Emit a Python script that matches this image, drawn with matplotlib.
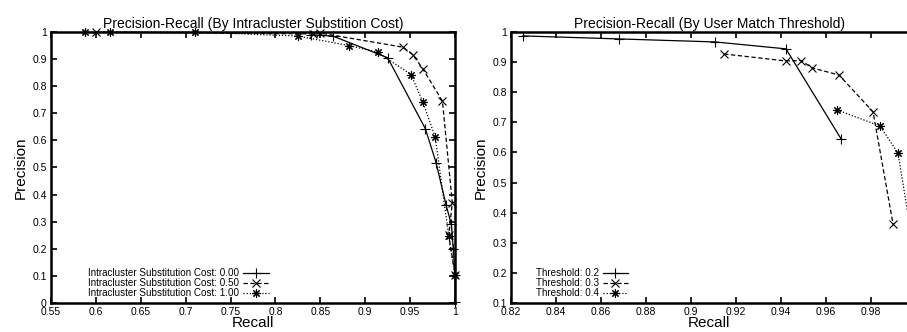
import matplotlib
matplotlib.use("Agg")
import matplotlib.pyplot as plt
from matplotlib.ticker import FuncFormatter, MultipleLocator

plt.rcParams['font.family'] = ['Liberation Sans', 'DejaVu Sans']

# --- Painel esquerdo: custo de substituição intracluster ---
rec_c000 = [0.840, 0.864, 0.925, 0.967, 0.979, 0.990, 0.996, 0.998, 1.000, 1.000]
prec_c000 = [0.990, 0.985, 0.905, 0.643, 0.517, 0.362, 0.290, 0.200, 0.105, 0.003]

rec_c050 = [0.600, 0.842, 0.850, 0.942, 0.953, 0.964, 0.986, 0.997, 0.993, 1.000]
prec_c050 = [1.000, 0.993, 0.996, 0.944, 0.916, 0.865, 0.745, 0.370, 0.250, 0.105]

rec_c100 = [0.588, 0.616, 0.710, 0.825, 0.882, 0.914, 0.951, 0.964, 0.978, 0.993, 1.000]
prec_c100 = [1.000, 1.000, 1.000, 0.985, 0.950, 0.925, 0.843, 0.743, 0.612, 0.248, 0.105]

# --- Painel direito: limiar de match do usuário ---
rec_t02 = [0.8253, 0.868, 0.9107, 0.9422, 0.9667]
prec_t02 = [0.987, 0.977, 0.967, 0.944, 0.645]

rec_t03 = [0.9147, 0.942, 0.9489, 0.9538, 0.9658, 0.9809, 0.9898]
prec_t03 = [0.927, 0.904, 0.905, 0.881, 0.857, 0.735, 0.362]

rec_t04 = [0.9649, 0.984, 0.992, 1.000]
prec_t04 = [0.741, 0.688, 0.598, 0.230]

labels_custo = ["Intracluster Substitution Cost: 0.00",
                "Intracluster Substitution Cost: 0.50",
                "Intracluster Substitution Cost: 1.00"]
labels_limiar = ["Threshold: 0.2", "Threshold: 0.3", "Threshold: 0.4"]

asterisco = (8, 2, 0)
estilos = [
    dict(linestyle='-', marker='+', markersize=7),
    dict(linestyle=(0, (3.5, 2)), marker='x', markersize=6),
    dict(linestyle=(0, (1, 1.5)), marker=asterisco, markersize=6),
]

fig = plt.figure(figsize=(9.07, 3.32), dpi=100)
ax1 = fig.add_axes([51 / 907, 29 / 332, 404 / 907, 271 / 332])
ax2 = fig.add_axes([511 / 907, 29 / 332, 396 / 907, 271 / 332])

fmt = FuncFormatter(lambda v, p: f"{v:g}")


def estiliza(ax):
    for s in ax.spines.values():
        s.set_linewidth(1.8)
    ax.tick_params(direction='in', length=4, width=1.2, top=True, right=True,
                   labelsize=7.5, pad=3)
    ax.xaxis.set_major_formatter(fmt)
    ax.yaxis.set_major_formatter(fmt)
    ax.set_xlabel("Recall", fontsize=11, labelpad=-1)
    ax.set_ylabel("Precision", fontsize=11, labelpad=3)


series1 = [(rec_c000, prec_c000), (rec_c050, prec_c050), (rec_c100, prec_c100)]
for (x, y), lab, st in zip(series1, labels_custo, estilos):
    ax1.plot(x, y, color='black', linewidth=0.9, markeredgewidth=0.8,
             label=lab, clip_on=False, **st)
ax1.set_xlim(0.55, 1.0)
ax1.set_ylim(0, 1)
ax1.xaxis.set_major_locator(MultipleLocator(0.05))
ax1.yaxis.set_major_locator(MultipleLocator(0.1))
estiliza(ax1)
ax1.set_title("Precision-Recall (By Intracluster Substition Cost)", fontsize=10, pad=3)
ax1.legend(loc='lower left', bbox_to_anchor=(0.08, 0.0), frameon=False,
           markerfirst=False, fontsize=7.1, handlelength=2.6, handletextpad=0.4,
           labelspacing=0.0, borderpad=0)

series2 = [(rec_t02, prec_t02), (rec_t03, prec_t03), (rec_t04, prec_t04)]
for (x, y), lab, st in zip(series2, labels_limiar, estilos):
    ax2.plot(x, y, color='black', linewidth=0.9, markeredgewidth=0.8, label=lab, **st)
ax2.set_xlim(0.82, 0.82 + 396 / 45 * 0.02)
ax2.set_ylim(0.1, 1)
ax2.xaxis.set_major_locator(MultipleLocator(0.02))
ax2.yaxis.set_major_locator(MultipleLocator(0.1))
estiliza(ax2)
ax2.spines['right'].set_visible(False)
ax2.tick_params(right=False)
ax2.set_title("Precision-Recall (By User Match Threshold)", fontsize=10, pad=3)
ax2.legend(loc='lower left', bbox_to_anchor=(0.05, 0.0), frameon=False,
           markerfirst=False, fontsize=7.1, handlelength=2.6, handletextpad=0.4,
           labelspacing=0.0, borderpad=0)

fig.savefig("out.png", dpi=100)
plt.close(fig)
